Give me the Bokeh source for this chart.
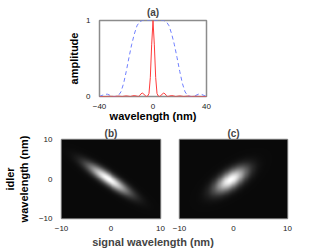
import numpy as np
from bokeh.plotting import figure
from bokeh.models import FixedTicker, LinearColorMapper, Range1d
from bokeh.layouts import column, row
from bokeh.embed import file_html
from bokeh.resources import INLINE
from bokeh.palettes import Greys256

# ---------------- data ----------------
# panel (a): broad dashed spectrum (blue) and narrow spectrum (red)
blue_x = [-40, -38, -36, -34, -32, -30, -28, -26, -24, -22, -20, -18, -16, -14, -12, -10, -8, -6, -4, -2, 0,
          2, 4, 6, 8, 10, 12, 14, 16, 18, 20, 22, 24, 26, 28, 30, 32, 34, 36, 38, 40]
blue_y = [0.0, 0.015, 0.03, 0.03, 0.015, 0.0, 0.0, 0.01, 0.06, 0.17, 0.33, 0.51, 0.68, 0.82, 0.93, 0.985, 1.0, 1.0, 1.0, 1.0, 1.0,
          1.0, 1.0, 1.0, 1.0, 0.985, 0.93, 0.82, 0.68, 0.51, 0.33, 0.17, 0.06, 0.01, 0.0, 0.0, 0.015, 0.03, 0.03, 0.015, 0.0]

red_x = [-40, -35, -32, -29, -26, -23, -20, -17, -14, -11, -10, -9, -8, -7, -6, -5, -4, -3, -2, -1, 0,
         1, 2, 3, 4, 5, 6, 7, 8, 9, 10, 11, 14, 17, 20, 23, 26, 29, 32, 35, 40]
red_y = [0.0, 0.0, 0.003, 0.0, 0.005, 0.0, 0.008, 0.0, 0.012, 0.0, 0.012, 0.035, 0.045, 0.035, 0.012, 0.0, 0.005, 0.04, 0.25, 0.68, 1.0,
         0.68, 0.25, 0.04, 0.005, 0.0, 0.012, 0.035, 0.045, 0.035, 0.012, 0.0, 0.012, 0.0, 0.008, 0.0, 0.005, 0.0, 0.003, 0.0, 0.0]

a_xticks = [-40, 0, 40]
a_yticks = [0, 1]
jsa_ticks = [-10, 0, 10]

# panels (b), (c): elliptical joint spectra, parameters
# (centre x, centre y, major-axis angle in degrees, sigma along major, sigma along minor), nm
b_params = (-0.5, 0.0, -41.0, 3.7, 0.9)
c_params = (-0.5, -0.2, 48.0, 2.7, 1.25)

FONT = "Liberation Sans"


def style(p):
    p.outline_line_color = "#8c8c8c"
    p.outline_line_width = 1.5
    p.grid.visible = False
    p.background_fill_color = "white"
    p.border_fill_color = "white"
    for ax in p.axis:
        ax.axis_line_color = None
        ax.major_tick_line_color = None
        ax.minor_tick_line_color = None
        ax.major_label_text_font = FONT
        ax.major_label_text_font_size = "8px"
        ax.major_label_text_color = "#222222"
        ax.major_label_standoff = 1
        ax.axis_label_text_font = FONT
        ax.axis_label_text_font_style = "bold"
        ax.axis_label_text_font_size = "11px"
        ax.axis_label_text_color = "black"
        ax.axis_label_standoff = 3


def title_style(p, standoff):
    p.title.text_font = FONT
    p.title.text_font_size = "10px"
    p.title.text_font_style = "bold"
    p.title.align = "center"
    p.title.standoff = standoff


def minus(ticks):
    return {t: ("\u2212" + str(abs(t)) if t < 0 else str(t)) for t in ticks}


# ---------------- panel (a) ----------------
pa = figure(width=332, height=124, x_range=Range1d(-40, 40), y_range=Range1d(0, 1),
            output_backend="svg", toolbar_location=None, title="(a)",
            min_border_left=99, min_border_right=126, min_border_top=20, min_border_bottom=25)
pa.line(blue_x, blue_y, line_color="#6f7fff", line_width=1, line_dash="4 3")
pa.line(red_x, red_y, line_color="#ff3b3b", line_width=1)
style(pa)
title_style(pa, 6)
pa.xaxis.ticker = FixedTicker(ticks=a_xticks)
pa.xaxis.major_label_overrides = minus(a_xticks)
pa.yaxis.ticker = FixedTicker(ticks=a_yticks)
pa.xaxis.axis_label = "wavelength (nm)"
pa.yaxis.axis_label = "amplitude"
pa.xaxis.major_label_standoff = 1
pa.xaxis.axis_label_standoff = -2
pa.yaxis.major_label_standoff = 3


# ---------------- panels (b), (c) ----------------
def jsa(params, n=200):
    cx, cy, ang, smaj, smin = params
    g = np.linspace(-10, 10, n)
    X, Y = np.meshgrid(g, g)
    t = np.deg2rad(ang)
    u = (X - cx) * np.cos(t) + (Y - cy) * np.sin(t)
    v = -(X - cx) * np.sin(t) + (Y - cy) * np.cos(t)
    return np.exp(-0.5 * (u / smaj) ** 2 - 0.5 * (v / smin) ** 2)


mapper = LinearColorMapper(palette=Greys256, low=-0.04, high=1.0)

pb = figure(width=169, height=109, x_range=Range1d(-10, 10), y_range=Range1d(-10, 10),
            output_backend="svg", toolbar_location=None, title="(b)",
            min_border_left=53, min_border_right=9, min_border_top=15, min_border_bottom=14)
pb.image(image=[jsa(b_params)], x=-10, y=-10, dw=20, dh=20, color_mapper=mapper)
style(pb)
title_style(pb, 1)
pb.xaxis.ticker = FixedTicker(ticks=jsa_ticks)
pb.yaxis.ticker = FixedTicker(ticks=jsa_ticks)
pb.xaxis.major_label_overrides = minus(jsa_ticks)
pb.yaxis.major_label_overrides = minus(jsa_ticks)
pb.yaxis.major_label_standoff = 3
pb.yaxis.axis_label = "idler\nwavelength (nm)"
pb.yaxis.axis_label_standoff = 6
pb.xaxis.major_label_standoff = 1

pc = figure(width=163, height=109, x_range=Range1d(-10, 10), y_range=Range1d(-10, 10),
            output_backend="svg", toolbar_location=None, title="(c)", y_axis_location=None,
            min_border_left=10, min_border_right=45, min_border_top=15, min_border_bottom=14)
pc.image(image=[jsa(c_params)], x=-10, y=-10, dw=20, dh=20, color_mapper=mapper)
style(pc)
title_style(pc, 1)
pc.xaxis.ticker = FixedTicker(ticks=jsa_ticks)
pc.xaxis.major_label_overrides = minus(jsa_ticks)
pc.xaxis.major_label_standoff = 1

# shared x label, drawn as the title of a strip figure
pl = figure(width=332, height=17, x_range=Range1d(0, 1), y_range=Range1d(0, 1),
            output_backend="svg", toolbar_location=None, x_axis_location=None, y_axis_location=None,
            title="signal wavelength (nm)",
            min_border_left=8, min_border_right=0, min_border_top=0, min_border_bottom=0)
pl.outline_line_color = None
pl.grid.visible = False
pl.title.text_font = FONT
pl.title.text_font_size = "11px"
pl.title.text_font_style = "bold"
pl.title.align = "center"
pl.title.standoff = 0

layout = column(pa, row(pb, pc), pl)
open("out.html", "w").write(file_html(layout, INLINE))
